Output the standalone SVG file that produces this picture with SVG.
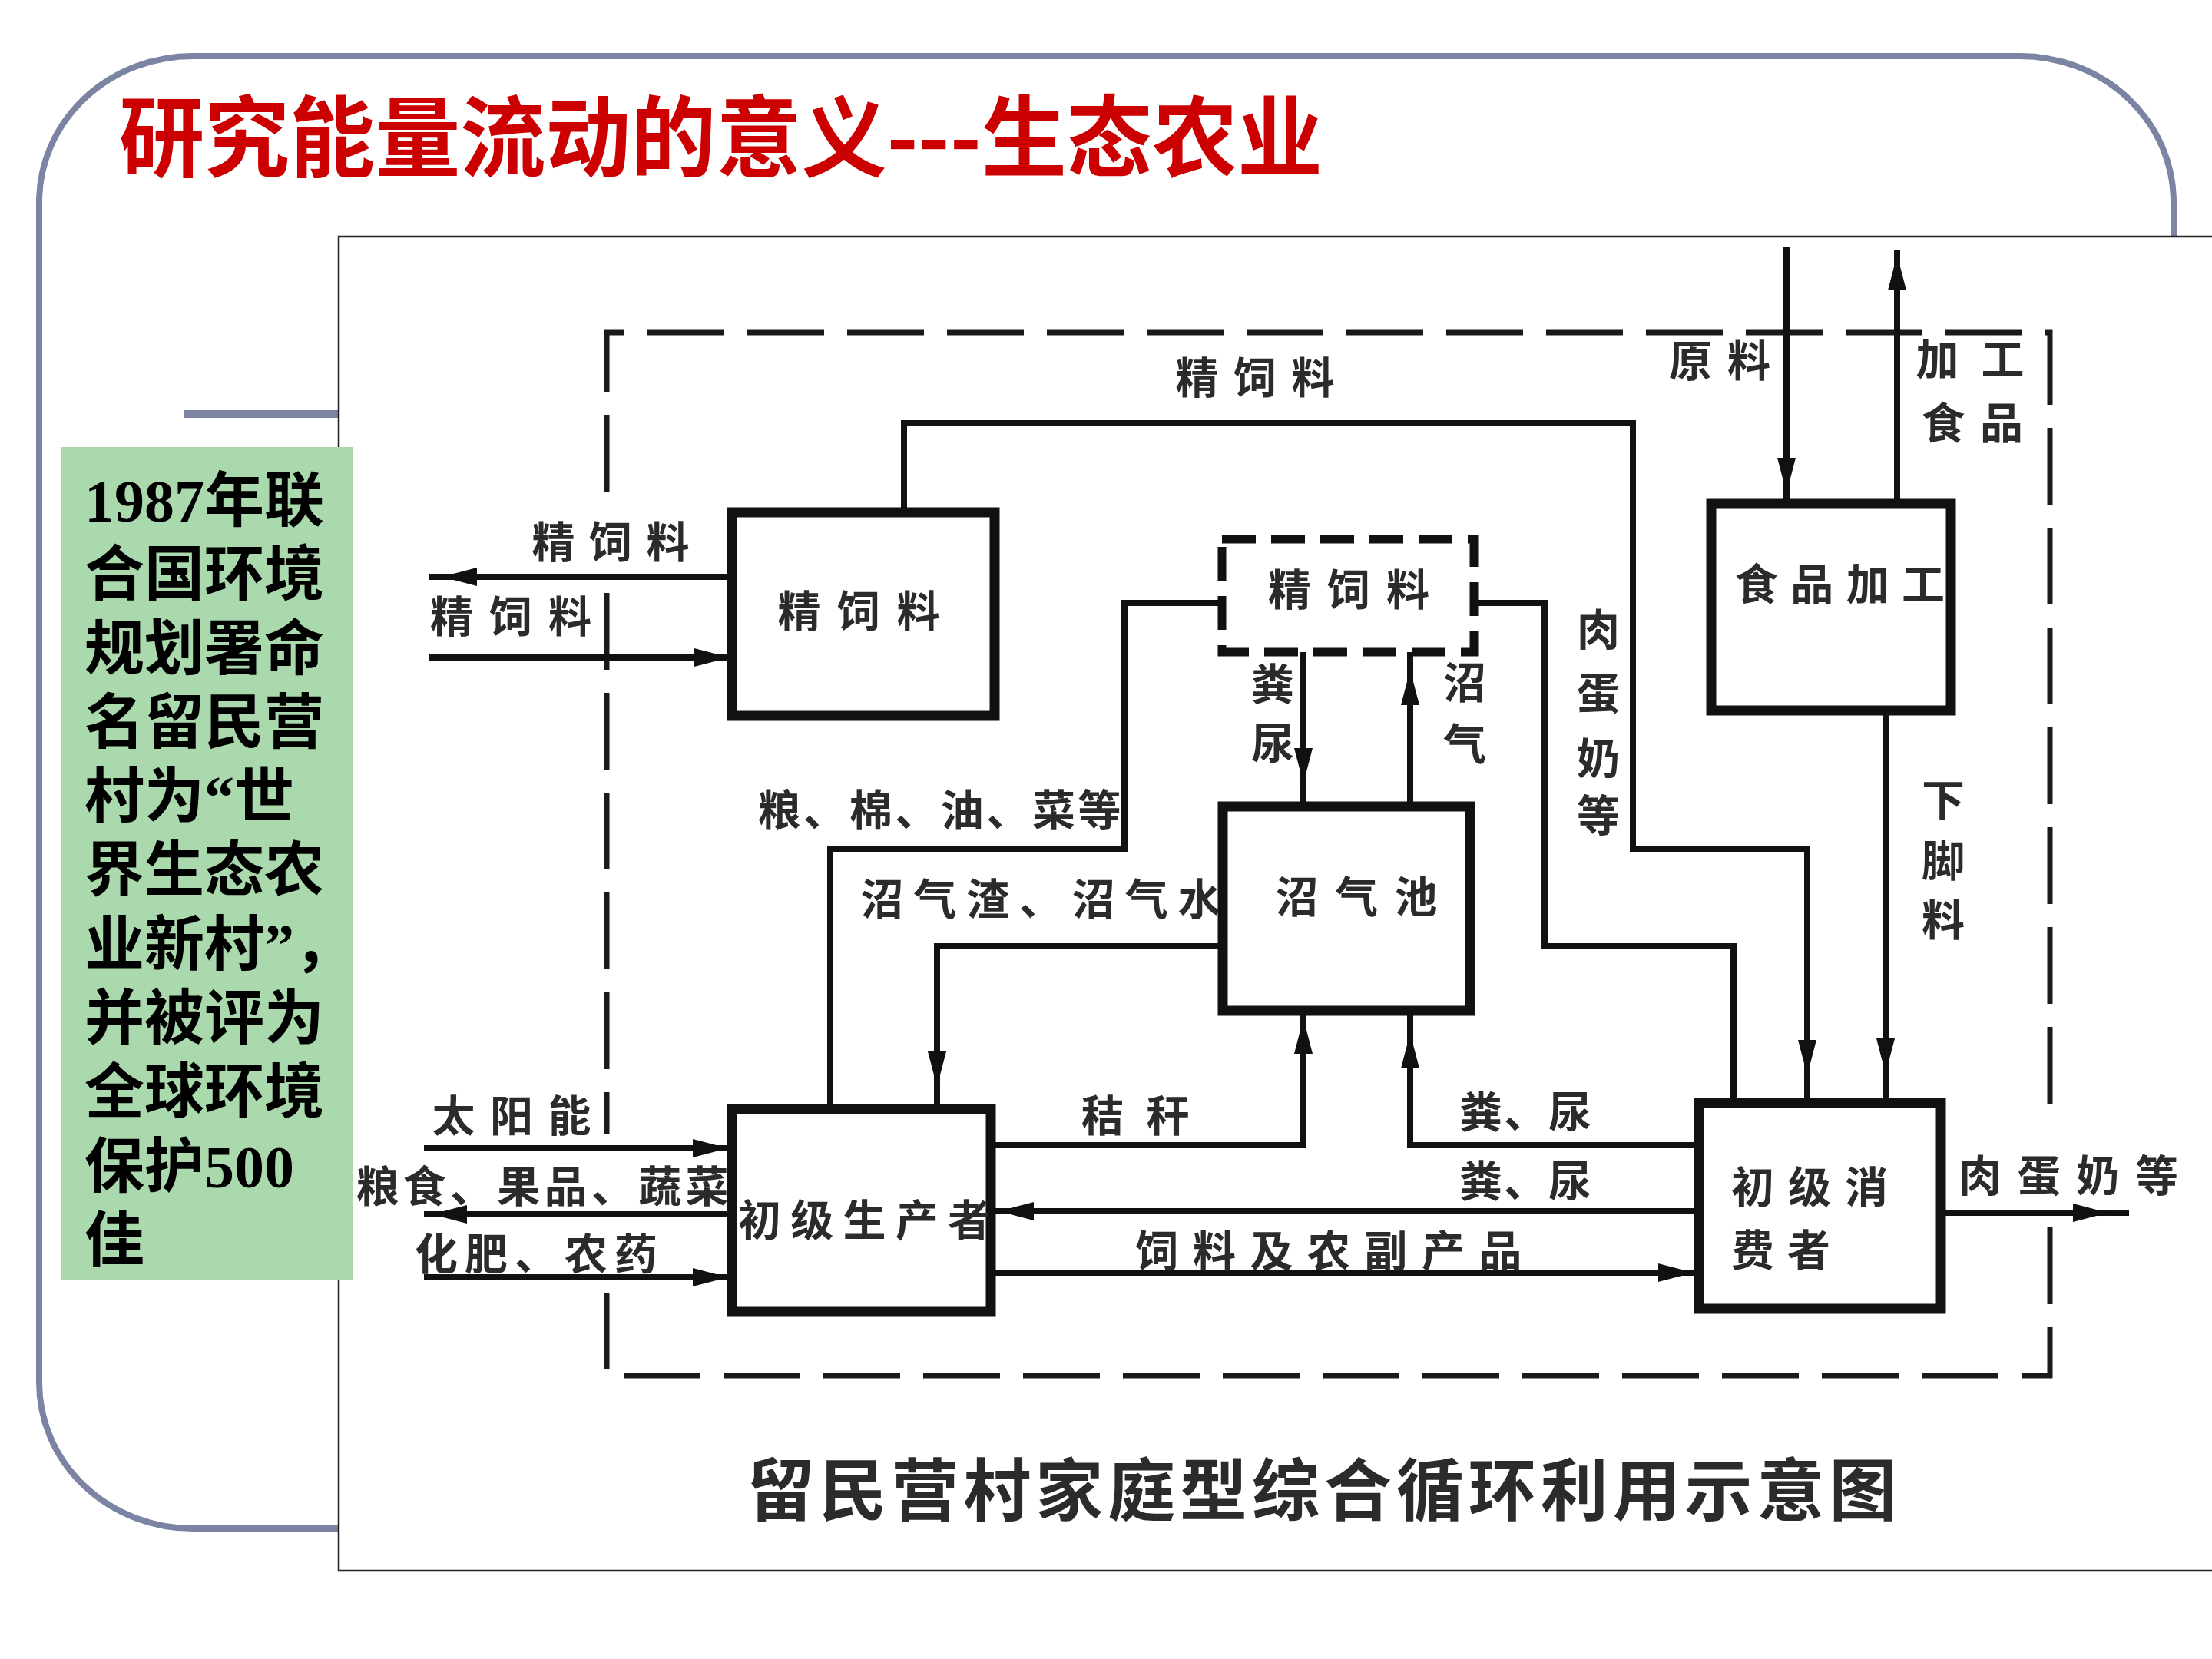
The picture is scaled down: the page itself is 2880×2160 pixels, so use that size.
<svg xmlns="http://www.w3.org/2000/svg" xmlns:xlink="http://www.w3.org/1999/xlink" width="2880" height="2160" viewBox="0 0 2880 2160">
<defs>
<style>
.frame{fill:none;stroke:#7b84a2;stroke-width:8}
.box{fill:#fff;stroke:#111;stroke-width:13}
.dbox{fill:#fff;stroke:#111;stroke-width:11;stroke-dasharray:44 20}
.bound{fill:none;stroke:#1a1a1a;stroke-width:7;stroke-dasharray:100 30}
.ln{fill:none;stroke:#111;stroke-width:8;stroke-linejoin:miter;stroke-linecap:square}
.lbl{font-family:"Noto Sans CJK SC",sans-serif;font-weight:700;font-size:56px;fill:#2b2b2b;text-anchor:middle;dominant-baseline:central}
.lbs{font-family:"Noto Sans CJK SC",sans-serif;font-weight:700;font-size:56px;fill:#2b2b2b;dominant-baseline:central}
.side{font-family:"Liberation Serif","Noto Sans CJK SC",serif;font-weight:700;font-size:78px;fill:#000;dominant-baseline:central}
</style>
<path id="ah" d="M0,0 L-46,-12 L-46,12 Z" fill="#111"/>
</defs>
<rect x="0" y="0" width="2880" height="2160" fill="#fff"/>
<g id="slide-frame">
<rect class="frame" x="51" y="73" width="2779" height="1917" rx="200" ry="190"/>
<rect x="240" y="534" width="201" height="10" fill="#7b84a2"/>
</g>
<g id="title">
<text x="155" y="171" font-family="'Noto Sans CJK SC',sans-serif" font-weight="700" font-size="115" fill="#cc0000" dominant-baseline="central" textLength="1567" lengthAdjust="spacingAndGlyphs">研究能量流动的意义---生态农业</text>
</g>
<g id="picture">
<rect x="441" y="308" width="2445" height="1737" fill="#fff" stroke="#222" stroke-width="2.5"/>
</g>
<g id="note">
<rect x="79" y="582" width="380" height="1084" fill="#abd9ae"/>
<text class="side" x="110" y="652">1987年联</text>
<text class="side" x="110" y="748">合国环境</text>
<text class="side" x="110" y="845">规划署命</text>
<text class="side" x="110" y="941">名留民营</text>
<text class="side" x="110" y="1037">村为“世</text>
<text class="side" x="110" y="1133">界生态农</text>
<text class="side" x="110" y="1230">业新村”，</text>
<text class="side" x="110" y="1326">并被评为</text>
<text class="side" x="110" y="1422">全球环境</text>
<text class="side" x="110" y="1519">保护500</text>
<text class="side" x="110" y="1615">佳</text>
</g>
<g id="boundary">
<path class="bound" d="M790,640 V433 H2669 V1456"/>
<path class="bound" d="M790,772 V1477"/>
<path class="bound" d="M790,1683 V1791 H2669 V1588"/>
</g>
<g id="connectors">
<path class="ln" d="M563,751 H953"/>
<path class="ln" d="M563,856 H953"/>
<path class="ln" d="M1177,667 V551 H2126 V1105 H2353 V1436"/>
<path class="ln" d="M2326,325 V656"/>
<path class="ln" d="M2470,329 V656"/>
<path class="ln" d="M2455,925 V1436"/>
<path class="ln" d="M1590,785 H1464 V1105 H1081 V1444"/>
<path class="ln" d="M1919,785 H2011 V1232 H2257 V1436"/>
<path class="ln" d="M1697,849 V1050"/>
<path class="ln" d="M1836,849 V1050"/>
<path class="ln" d="M1592,1232 H1220 V1444"/>
<path class="ln" d="M1290,1491 H1697 V1316"/>
<path class="ln" d="M2212,1491 H1836 V1316"/>
<path class="ln" d="M1290,1577 H2212"/>
<path class="ln" d="M1290,1657 H2212"/>
<path class="ln" d="M556,1495 H953"/>
<path class="ln" d="M556,1581 H953"/>
<path class="ln" d="M556,1663 H953"/>
<path class="ln" d="M2527,1579 H2768"/>
<use xlink:href="#ah" transform="translate(575,751) rotate(180)"/>
<use xlink:href="#ah" transform="translate(950,856)"/>
<use xlink:href="#ah" transform="translate(948,1495)"/>
<use xlink:href="#ah" transform="translate(562,1581) rotate(180)"/>
<use xlink:href="#ah" transform="translate(948,1663)"/>
<use xlink:href="#ah" transform="translate(2326,642) rotate(90)"/>
<use xlink:href="#ah" transform="translate(2470,332) rotate(-90)"/>
<use xlink:href="#ah" transform="translate(1697,1020) rotate(90)"/>
<use xlink:href="#ah" transform="translate(1836,872) rotate(-90)"/>
<use xlink:href="#ah" transform="translate(1220,1415) rotate(90)"/>
<use xlink:href="#ah" transform="translate(1697,1326) rotate(-90)"/>
<use xlink:href="#ah" transform="translate(1836,1345) rotate(-90)"/>
<use xlink:href="#ah" transform="translate(1300,1577) rotate(180)"/>
<use xlink:href="#ah" transform="translate(2205,1657)"/>
<use xlink:href="#ah" transform="translate(2353,1400) rotate(90)"/>
<use xlink:href="#ah" transform="translate(2455,1398) rotate(90)"/>
<use xlink:href="#ah" transform="translate(2745,1579)"/>
</g>
<g id="edge-labels">
<text class="lbl" x="1634" y="487" textLength="207">精饲料</text>
<text class="lbl" x="2239" y="465" textLength="132">原料</text>
<text class="lbl" x="2565" y="463" textLength="141">加工</text>
<text class="lbl" x="2568" y="546" textLength="132">食品</text>
<text class="lbl" x="795" y="701" textLength="205">精饲料</text>
<text class="lbl" x="665" y="798" textLength="210">精饲料</text>
<text class="lbl" x="1657" y="886">粪</text>
<text class="lbl" x="1657" y="963">尿</text>
<text class="lbl" x="1907" y="884">沼</text>
<text class="lbl" x="1907" y="964">气</text>
<text class="lbl" x="2081" y="815">肉</text>
<text class="lbl" x="2081" y="898">蛋</text>
<text class="lbl" x="2081" y="983">奶</text>
<text class="lbl" x="2081" y="1057">等</text>
<text class="lbl" x="1223" y="1050" textLength="473">粮、棉、油、菜等</text>
<text class="lbl" x="1355" y="1166" textLength="469">沼气渣、沼气水</text>
<text class="lbl" x="2530" y="1037">下</text>
<text class="lbl" x="2530" y="1116">脚</text>
<text class="lbl" x="2530" y="1193">料</text>
<text class="lbl" x="666" y="1448" textLength="207">太阳能</text>
<text class="lbl" x="1478" y="1448" textLength="141">秸秆</text>
<text class="lbl" x="1986" y="1443" textLength="172">粪、尿</text>
<text class="lbl" x="706" y="1540" textLength="485">粮食、果品、蔬菜</text>
<text class="lbl" x="1986" y="1533" textLength="172">粪、尿</text>
<text class="lbl" x="2693" y="1526" textLength="286">肉蛋奶等</text>
<text class="lbl" x="698" y="1628" textLength="316">化肥、农药</text>
<text class="lbl" x="1730" y="1624" textLength="503">饲料及农副产品</text>
</g>
<g id="node-feed">
<rect class="box" x="953" y="667" width="342" height="265"/>
<text class="lbl" x="1118" y="791" textLength="211">精饲料</text>
</g>
<g id="node-feed-dashed">
<rect class="dbox" x="1591" y="702" width="328" height="147"/>
<text class="lbl" x="1756" y="763" textLength="210">精饲料</text>
</g>
<g id="node-food-processing">
<rect class="box" x="2228" y="656" width="312" height="269"/>
<text class="lbs" x="2259" y="756" textLength="273">食品加工</text>
</g>
<g id="node-biogas">
<rect class="box" x="1592" y="1050" width="322" height="266"/>
<text class="lbl" x="1766" y="1163" textLength="211">沼气池</text>
</g>
<g id="node-producer">
<rect class="box" x="953" y="1444" width="337" height="264"/>
<text class="lbs" x="961" y="1584" textLength="329">初级生产者</text>
</g>
<g id="node-consumer">
<rect class="box" x="2212" y="1436" width="315" height="268"/>
<text class="lbs" x="2254" y="1541" textLength="204">初级消</text>
<text class="lbs" x="2254" y="1623" textLength="129">费者</text>
</g>
<g id="caption">
<text x="1721" y="1933" font-family="'Noto Sans CJK SC',sans-serif" font-weight="700" font-size="88" fill="#2b2b2b" text-anchor="middle" dominant-baseline="central" textLength="1497">留民营村家庭型综合循环利用示意图</text>
</g>
</svg>
